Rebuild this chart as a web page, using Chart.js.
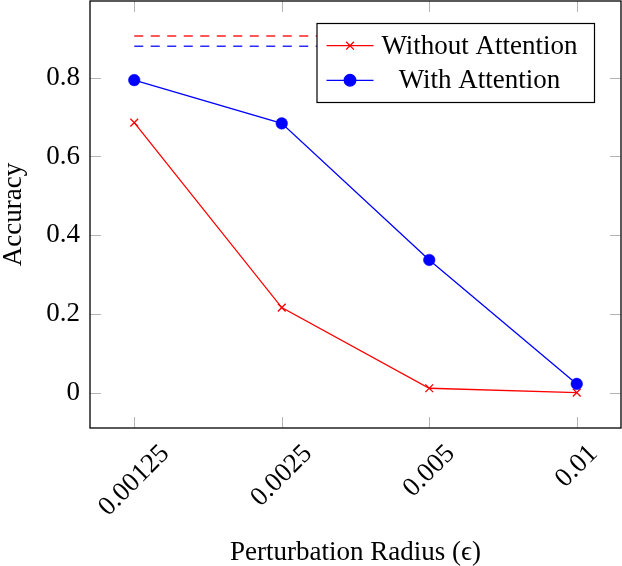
<!DOCTYPE html>
<html>
<head>
<meta charset="utf-8">
<script src="https://cdn.jsdelivr.net/npm/chart.js@4/dist/chart.umd.min.js"></script>
<style>
  html, body { margin: 0; padding: 0; background: #fff; }
  #wrap { width: 622px; height: 566px; }
</style>
</head>
<body>
<div id="wrap"><canvas id="myChart" width="622" height="566"></canvas></div>
<script>
// values
const xValues = [0.00125, 0.0025, 0.005, 0.01];
const xTickLabels = ['0.00125', '0.0025', '0.005', '0.01'];
const yTicks = [0, 0.2, 0.4, 0.6, 0.8];
const withoutAttention = [0.686, 0.216, 0.011, 0.0];
const withAttention = [0.794, 0.684, 0.337, 0.022];
const baselineWithout = [0.906, 0.906, 0.906, 0.906];
const baselineWith = [0.880, 0.880, 0.880, 0.880];

const FONT = '"Liberation Serif", "Times New Roman", serif';
const toPoints = arr => xValues.map((x, i) => ({ x: x, y: arr[i] }));

const noPad = s => { s.paddingTop = 0; s.paddingBottom = 0; s.paddingLeft = 0; s.paddingRight = 0; };

// inner tick marks, frame, rotated x labels and the boxed legend
const pgfPlugin = {
  id: 'pgf',
  beforeDatasetsDraw(chart) {
    const { ctx, chartArea: a, scales: { x, y } } = chart;
    const tl = 11;
    ctx.save();
    ctx.strokeStyle = '#b4b4b4';
    ctx.lineWidth = 1;
    ctx.beginPath();
    yTicks.forEach(v => {
      const py = Math.round(y.getPixelForValue(v)) + 0.5;
      ctx.moveTo(a.left, py); ctx.lineTo(a.left + tl, py);
      ctx.moveTo(a.right, py); ctx.lineTo(a.right - tl, py);
    });
    xValues.forEach(v => {
      const px = Math.round(x.getPixelForValue(v)) + 0.5;
      ctx.moveTo(px, a.bottom); ctx.lineTo(px, a.bottom - tl);
      ctx.moveTo(px, a.top); ctx.lineTo(px, a.top + tl);
    });
    ctx.stroke();
    ctx.restore();
  },
  afterDatasetsDraw(chart) {
    const { ctx, chartArea: a, scales: { x } } = chart;
    ctx.save();
    ctx.strokeStyle = '#000';
    ctx.lineWidth = 1.3;
    ctx.strokeRect(a.left, a.top, a.right - a.left, a.bottom - a.top);

    // x tick labels, rotated 45deg, centred on the tick
    ctx.font = '27px ' + FONT;
    ctx.fillStyle = '#000';
    xValues.forEach((v, i) => {
      const lbl = xTickLabels[i];
      const w = ctx.measureText(lbl).width;
      const h = 19;
      const cx = x.getPixelForValue(v);
      const cy = a.bottom + 15 + (w + h) / (2 * Math.SQRT2);
      ctx.save();
      ctx.translate(cx, cy);
      ctx.rotate(-Math.PI / 4);
      ctx.textAlign = 'center';
      ctx.textBaseline = 'middle';
      ctx.fillText(lbl, 0, 0);
      ctx.restore();
    });

    // legend box
    const bx = a.left + 227, by = a.top + 22.5, bw = 277.5, bh = 79;
    ctx.fillStyle = '#fff';
    ctx.fillRect(bx, by, bw, bh);
    ctx.lineWidth = 1.2;
    ctx.strokeStyle = '#000';
    ctx.strokeRect(bx, by, bw, bh);
    const rows = chart.data.datasets.filter(d => d.label);
    const rowY = [by + 22.2, by + 56.8];
    rows.forEach((ds, i) => {
      const yy = rowY[i];
      ctx.strokeStyle = ds.borderColor;
      ctx.fillStyle = ds.backgroundColor;
      ctx.lineWidth = 1.3;
      ctx.beginPath();
      ctx.moveTo(bx + 9.5, yy); ctx.lineTo(bx + 56.5, yy);
      ctx.stroke();
      Chart.helpers.drawPoint(ctx, {
        pointStyle: ds.pointStyle, radius: ds.pointRadius,
        borderWidth: ds.pointBorderWidth, rotation: 0
      }, bx + 33, yy);
      ctx.fillStyle = '#000';
      ctx.font = '27px ' + FONT;
      ctx.textAlign = 'center';
      ctx.textBaseline = 'middle';
      ctx.fillText(ds.label, bx + 162.5, yy + 1);
    });
    ctx.restore();
  }
};

new Chart(document.getElementById('myChart').getContext('2d'), {
  type: 'line',
  data: {
    datasets: [
      {
        label: 'Without Attention',
        data: toPoints(withoutAttention),
        borderColor: '#ff0000',
        backgroundColor: '#ff0000',
        borderWidth: 1.3,
        pointStyle: 'crossRot',
        pointRadius: 5.5,
        pointBorderWidth: 1.3,
        order: 1
      },
      {
        label: 'With Attention',
        data: toPoints(withAttention),
        borderColor: '#0000ff',
        backgroundColor: '#0000ff',
        borderWidth: 1.3,
        pointStyle: 'circle',
        pointRadius: 5.8,
        pointBorderWidth: 0.5,
        order: 0
      },
      {
        label: '',
        data: toPoints(baselineWithout),
        borderColor: '#ff2020',
        borderWidth: 1.5,
        borderDash: [9, 7.5],
        pointRadius: 0,
        order: 3
      },
      {
        label: '',
        data: toPoints(baselineWith),
        borderColor: '#2a2aff',
        borderWidth: 1.5,
        borderDash: [9, 7.5],
        pointRadius: 0,
        order: 2
      }
    ]
  },
  options: {
    responsive: false,
    animation: false,
    devicePixelRatio: 1,
    layout: { autoPadding: false, padding: { top: 1, right: 1, left: 0, bottom: 0 } },
    plugins: { legend: { display: false }, tooltip: { enabled: false } },
    elements: { line: { tension: 0 } },
    scales: {
      x: {
        type: 'logarithmic',
        min: xValues[0] / Math.pow(2, 0.3),
        max: xValues[xValues.length - 1] * Math.pow(2, 0.3),
        afterBuildTicks: s => { s.ticks = xValues.map(v => ({ value: v })); },
        ticks: { display: false },
        grid: { display: false, drawTicks: false },
        border: { display: false },
        title: {
          display: true,
          text: 'Perturbation Radius (\u03f5)',
          color: '#000',
          font: { family: FONT, size: 27, lineHeight: 1 },
          padding: 0
        },
        afterFit: s => { s.height = 138; noPad(s); }
      },
      y: {
        type: 'linear',
        min: -0.09,
        max: 0.995,
        afterBuildTicks: s => { s.ticks = yTicks.map(v => ({ value: v })); },
        ticks: {
          color: '#000',
          padding: 10,
          font: { family: FONT, size: 27 }
        },
        grid: { display: false, drawTicks: false },
        border: { display: false },
        title: {
          display: true,
          text: 'Accuracy',
          color: '#000',
          font: { family: FONT, size: 27, lineHeight: 1 },
          padding: 0
        },
        afterFit: s => { s.width = 90; noPad(s); }
      }
    }
  },
  plugins: [pgfPlugin]
});
</script>
</body>
</html>
